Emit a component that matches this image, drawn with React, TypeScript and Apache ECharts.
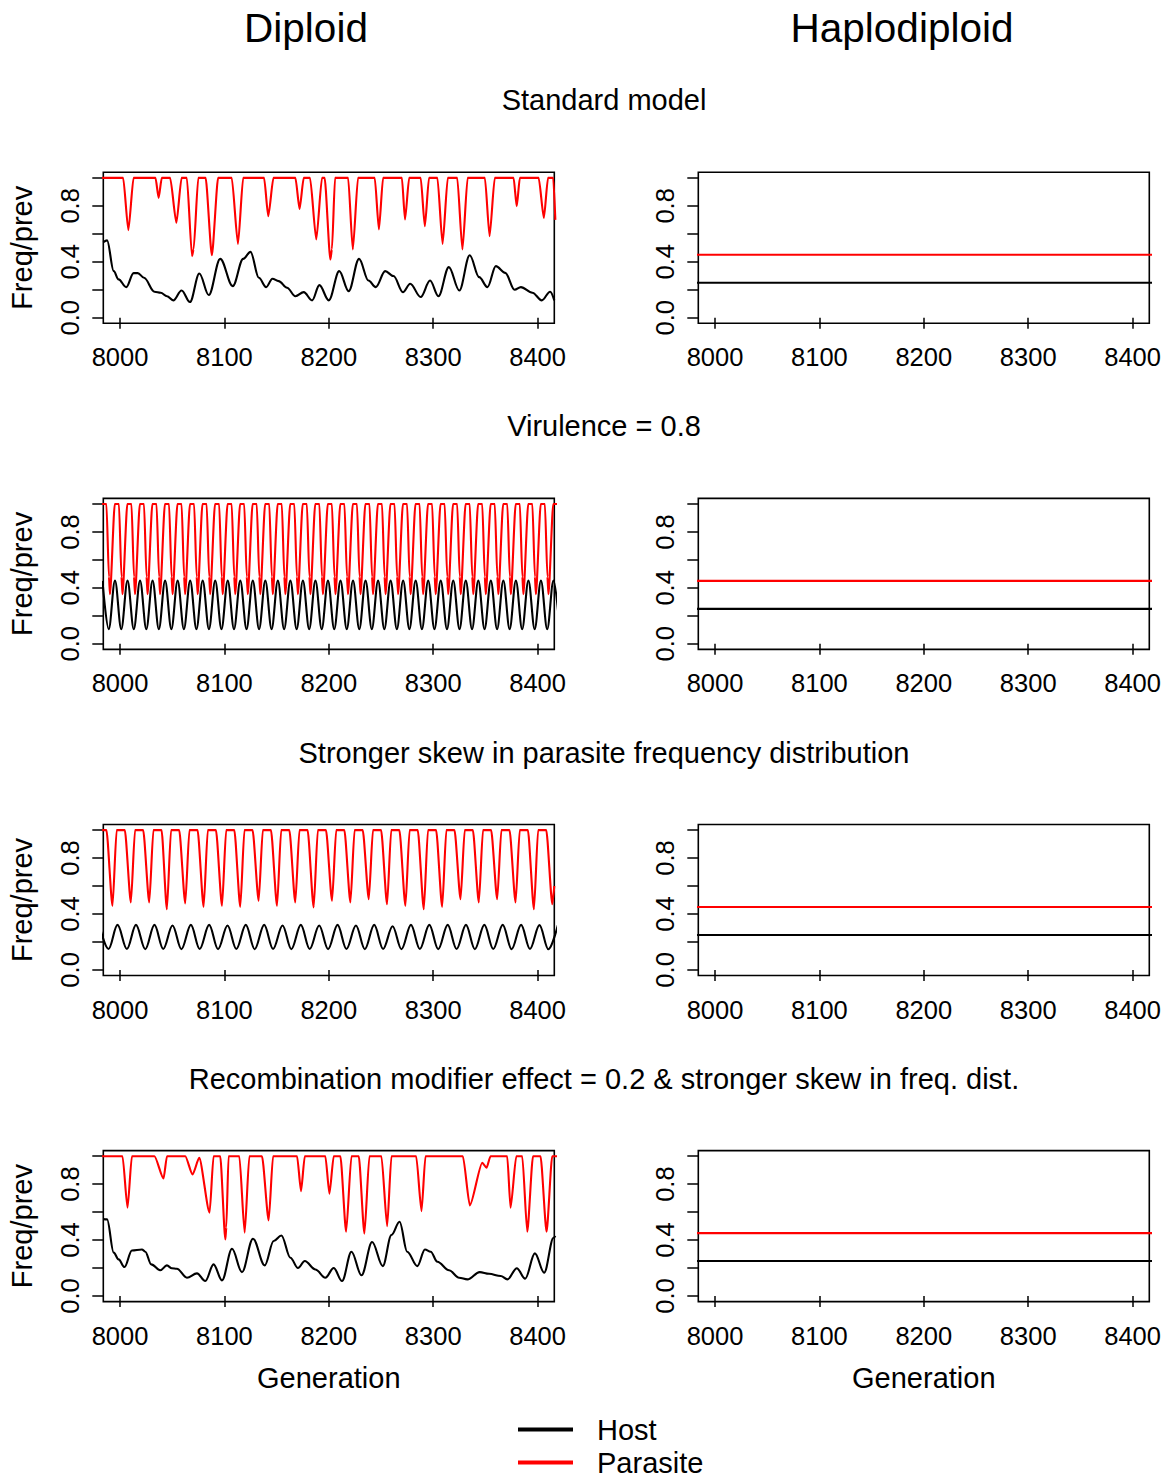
import React, { useEffect, useRef } from 'react';
import * as echarts from 'echarts';

const FONT = '"Liberation Sans", Arial, Helvetica, sans-serif';

// ---------- texts / ticks ----------
const columnTitles = ['Diploid', 'Haplodiploid'];
const rowTitles = [
  'Standard model',
  'Virulence = 0.8',
  'Stronger skew in parasite frequency distribution',
  'Recombination modifier effect = 0.2 & stronger skew in freq. dist.',
];
const seriesNames = ['Host', 'Parasite'];
const seriesColors = ['#000000', '#FF0000'];
const xTickValues = [8000, 8100, 8200, 8300, 8400];
const yTickValues = [0, 0.2, 0.4, 0.6, 0.8, 1.0];
const yLabelValues = [0, 0.4, 0.8];
const xRange = [7984, 8416];
const yRange = [-0.04, 1.04];

// ---------- Diploid, standard model ----------
const stdHost = [
  [7984, 0.54], [7987.6, 0.553], [7994, 0.333], [7998.6, 0.274], [8006, 0.219], [8013, 0.319], [8017, 0.319],
  [8023, 0.286], [8033, 0.186], [8039, 0.179], [8045, 0.154], [8051, 0.124], [8059, 0.195], [8067, 0.112],
  [8076, 0.316], [8085, 0.162], [8096, 0.421], [8108, 0.226], [8118, 0.421], [8125, 0.471], [8133, 0.286],
  [8140, 0.219], [8146, 0.279], [8152, 0.262], [8160, 0.214], [8168, 0.154], [8176, 0.183], [8184, 0.124],
  [8191, 0.233], [8200, 0.124], [8210, 0.333], [8219, 0.19], [8229, 0.421], [8238, 0.266], [8245, 0.219],
  [8254, 0.333], [8262, 0.298], [8271, 0.183], [8278, 0.243], [8288, 0.148], [8297, 0.266], [8305, 0.154],
  [8315, 0.362], [8325, 0.195], [8335, 0.447], [8344, 0.29], [8352, 0.219], [8360, 0.369], [8369, 0.321],
  [8378, 0.2], [8384, 0.219], [8395, 0.179], [8404, 0.124], [8412, 0.186], [8416, 0.124],
];
const stdPar = [
  [7980, 1], [8003, 1], [8008, 0.626], [8013, 1], [8034, 1], [8037, 0.857], [8040, 1], [8048, 1], [8054, 0.679],
  [8059, 1], [8064, 1], [8069, 0.44], [8070.5, 0.49], [8075, 1], [8082, 1], [8088, 0.447], [8094, 1], [8107, 1],
  [8113, 0.528], [8118, 1], [8138, 1], [8142, 0.726], [8147, 1], [8168, 1], [8172, 0.778], [8176, 1], [8182, 1],
  [8188, 0.559], [8193.5, 1], [8196, 1], [8201.5, 0.416], [8203, 0.49], [8206, 1], [8218.5, 1], [8223, 0.488],
  [8228, 1], [8244, 1], [8248, 0.631], [8252, 1], [8270, 1], [8273, 0.702], [8277, 1], [8288, 1], [8292, 0.654],
  [8296, 1], [8304, 1], [8309, 0.528], [8314, 1], [8323, 1], [8328, 0.488], [8333, 1], [8349.5, 1], [8354, 0.583],
  [8359, 1], [8377, 1], [8380, 0.797], [8383, 1], [8401, 1], [8406, 0.714], [8410, 1], [8415, 1], [8417, 0.7],
];

// ---------- Diploid, virulence = 0.8 ----------
const virHost = [
  [7983.2, 0.45], [7989.2, 0.105], [7995.2, 0.452], [8001.2, 0.105], [8007.2, 0.452], [8013.2, 0.105],
  [8019.2, 0.452], [8025.2, 0.105], [8031.2, 0.452], [8037.2, 0.105], [8043.2, 0.452], [8049.2, 0.105],
  [8055.2, 0.452], [8061.2, 0.105], [8067.2, 0.452], [8073.2, 0.105], [8079.2, 0.452], [8085.2, 0.105],
  [8091.2, 0.452], [8097.2, 0.105], [8103.2, 0.452], [8109.2, 0.105], [8115.2, 0.452], [8121.2, 0.105],
  [8127.2, 0.452], [8133.2, 0.105], [8139.2, 0.452], [8145.2, 0.105], [8151.2, 0.452], [8157.2, 0.105],
  [8163.2, 0.452], [8169.2, 0.105], [8175.2, 0.452], [8181.2, 0.105], [8187.2, 0.452], [8193.2, 0.105],
  [8199.2, 0.452], [8205.2, 0.105], [8211.2, 0.452], [8217.2, 0.105], [8223.2, 0.452], [8229.2, 0.105],
  [8235.2, 0.452], [8241.2, 0.105], [8247.2, 0.452], [8253.2, 0.105], [8259.2, 0.452], [8265.2, 0.105],
  [8271.2, 0.452], [8277.2, 0.105], [8283.2, 0.452], [8289.2, 0.105], [8295.2, 0.452], [8301.2, 0.105],
  [8307.2, 0.452], [8313.2, 0.105], [8319.2, 0.452], [8325.2, 0.105], [8331.2, 0.452], [8337.2, 0.105],
  [8343.2, 0.452], [8349.2, 0.105], [8355.2, 0.452], [8361.2, 0.105], [8367.2, 0.452], [8373.2, 0.105],
  [8379.2, 0.452], [8385.2, 0.105], [8391.2, 0.452], [8397.2, 0.105], [8403.2, 0.452], [8409.2, 0.105],
  [8415.2, 0.452], [8421.2, 0.105],
];
const virPar = [
  [7980, 1], [7987, 1], [7989.4, 0.48],
  [7990.4, 0.355], [7995, 1], [7999, 1], [8001.4, 0.48],
  [8002.4, 0.355], [8007, 1], [8011, 1], [8013.4, 0.48],
  [8014.4, 0.355], [8019, 1], [8023, 1], [8025.4, 0.48],
  [8026.4, 0.355], [8031, 1], [8035, 1], [8037.4, 0.48],
  [8038.4, 0.355], [8043, 1], [8047, 1], [8049.4, 0.48],
  [8050.4, 0.355], [8055, 1], [8059, 1], [8061.4, 0.48],
  [8062.4, 0.355], [8067, 1], [8071, 1], [8073.4, 0.48],
  [8074.4, 0.355], [8079, 1], [8083, 1], [8085.4, 0.48],
  [8086.4, 0.355], [8091, 1], [8095, 1], [8097.4, 0.48],
  [8098.4, 0.355], [8103, 1], [8107, 1], [8109.4, 0.48],
  [8110.4, 0.355], [8115, 1], [8119, 1], [8121.4, 0.48],
  [8122.4, 0.355], [8127, 1], [8131, 1], [8133.4, 0.48],
  [8134.4, 0.355], [8139, 1], [8143, 1], [8145.4, 0.48],
  [8146.4, 0.355], [8151, 1], [8155, 1], [8157.4, 0.48],
  [8158.4, 0.355], [8163, 1], [8167, 1], [8169.4, 0.48],
  [8170.4, 0.355], [8175, 1], [8179, 1], [8181.4, 0.48],
  [8182.4, 0.355], [8187, 1], [8191, 1], [8193.4, 0.48],
  [8194.4, 0.355], [8199, 1], [8203, 1], [8205.4, 0.48],
  [8206.4, 0.355], [8211, 1], [8215, 1], [8217.4, 0.48],
  [8218.4, 0.355], [8223, 1], [8227, 1], [8229.4, 0.48],
  [8230.4, 0.355], [8235, 1], [8239, 1], [8241.4, 0.48],
  [8242.4, 0.355], [8247, 1], [8251, 1], [8253.4, 0.48],
  [8254.4, 0.355], [8259, 1], [8263, 1], [8265.4, 0.48],
  [8266.4, 0.355], [8271, 1], [8275, 1], [8277.4, 0.48],
  [8278.4, 0.355], [8283, 1], [8287, 1], [8289.4, 0.48],
  [8290.4, 0.355], [8295, 1], [8299, 1], [8301.4, 0.48],
  [8302.4, 0.355], [8307, 1], [8311, 1], [8313.4, 0.48],
  [8314.4, 0.355], [8319, 1], [8323, 1], [8325.4, 0.48],
  [8326.4, 0.355], [8331, 1], [8335, 1], [8337.4, 0.48],
  [8338.4, 0.355], [8343, 1], [8347, 1], [8349.4, 0.48],
  [8350.4, 0.355], [8355, 1], [8359, 1], [8361.4, 0.48],
  [8362.4, 0.355], [8367, 1], [8371, 1], [8373.4, 0.48],
  [8374.4, 0.355], [8379, 1], [8383, 1], [8385.4, 0.48],
  [8386.4, 0.355], [8391, 1], [8395, 1], [8397.4, 0.48],
  [8398.4, 0.355], [8403, 1], [8407, 1], [8409.4, 0.48],
  [8410.4, 0.355], [8415, 1], [8420, 1],
];

// ---------- Diploid, stronger skew ----------
const skewHost = [
  [7980.2, 0.32], [7989.0, 0.15], [7997.6, 0.322], [8006.6, 0.15], [8015.3, 0.322], [8024.2, 0.148],
  [8033.0, 0.322], [8041.4, 0.15], [8050.3, 0.318], [8058.8, 0.148], [8067.9, 0.322], [8076.3, 0.15],
  [8085.4, 0.322], [8093.9, 0.148], [8103.0, 0.318], [8111.4, 0.15], [8120.5, 0.322], [8129.0, 0.148],
  [8138.1, 0.322], [8146.6, 0.15], [8155.7, 0.318], [8164.1, 0.148], [8173.2, 0.322], [8181.7, 0.15],
  [8190.8, 0.318], [8199.3, 0.148], [8208.4, 0.322], [8216.9, 0.15], [8226.0, 0.318], [8234.5, 0.148],
  [8243.5, 0.322], [8252.0, 0.15], [8261.1, 0.312], [8269.6, 0.148], [8278.7, 0.322], [8287.2, 0.15],
  [8296.3, 0.322], [8304.8, 0.148], [8313.9, 0.322], [8322.4, 0.15], [8331.4, 0.322], [8339.9, 0.148],
  [8349.0, 0.322], [8357.5, 0.15], [8366.6, 0.322], [8375.1, 0.148], [8384.2, 0.322], [8392.7, 0.15],
  [8401.8, 0.32], [8410.3, 0.148], [8419.4, 0.32],
];
const skewPar = [
  [7980, 1], [7987, 1],
  [7992.8, 0.458], [7996.8, 1], [8004.6, 1],
  [8010.4, 0.482], [8014.4, 1], [8022.2, 1],
  [8028.0, 0.482], [8032.0, 1], [8039.8, 1],
  [8044.9, 0.434], [8048.9, 1], [8056.7, 1],
  [8062.5, 0.475], [8066.5, 1], [8074.3, 1],
  [8080.1, 0.451], [8084.1, 1], [8091.9, 1],
  [8097.7, 0.458], [8101.7, 1], [8109.5, 1],
  [8115.2, 0.451], [8119.2, 1], [8127.0, 1],
  [8132.8, 0.494], [8136.8, 1], [8144.6, 1],
  [8150.4, 0.458], [8154.4, 1], [8162.2, 1],
  [8167.9, 0.482], [8171.9, 1], [8179.7, 1],
  [8185.5, 0.446], [8189.5, 1], [8197.3, 1],
  [8203.1, 0.494], [8207.1, 1], [8214.9, 1],
  [8220.7, 0.482], [8224.7, 1], [8232.5, 1],
  [8238.3, 0.506], [8242.3, 1], [8250.1, 1],
  [8255.8, 0.47], [8259.8, 1], [8267.6, 1],
  [8273.4, 0.458], [8277.4, 1], [8285.2, 1],
  [8291.0, 0.434], [8295.0, 1], [8302.8, 1],
  [8308.6, 0.451], [8312.6, 1], [8320.4, 1],
  [8326.2, 0.506], [8330.2, 1], [8338.0, 1],
  [8343.7, 0.482], [8347.7, 1], [8355.5, 1],
  [8361.3, 0.506], [8365.3, 1], [8373.1, 1],
  [8378.9, 0.482], [8382.9, 1], [8390.7, 1],
  [8396.5, 0.434], [8400.5, 1], [8408.3, 1],
  [8414.1, 0.47], [8416, 0.6],
];

// ---------- Diploid, recombination modifier ----------
const recHost = [
  [7984, 0.55], [7987.6, 0.548], [7994, 0.31], [7998.6, 0.262], [8004.3, 0.207], [8011.4, 0.326], [8021, 0.333],
  [8024.2, 0.317], [8029.9, 0.226], [8038.6, 0.184], [8044.9, 0.219], [8049.7, 0.198], [8054.5, 0.195],
  [8064.1, 0.131], [8073.7, 0.162], [8081.7, 0.107], [8089.6, 0.226], [8097.7, 0.112], [8107.3, 0.338],
  [8116.8, 0.171], [8127.4, 0.41], [8138.6, 0.219], [8147.2, 0.393], [8154.6, 0.433], [8163.2, 0.274],
  [8170.5, 0.2], [8177, 0.25], [8187.2, 0.19], [8196.7, 0.131], [8204.7, 0.2], [8212.7, 0.107],
  [8221.7, 0.317], [8231.3, 0.148], [8241.5, 0.386], [8251.7, 0.214], [8260, 0.436], [8267.8, 0.531],
  [8275.1, 0.317], [8284.8, 0.214], [8292.1, 0.333], [8297.6, 0.317], [8304, 0.245], [8315.2, 0.184],
  [8324.8, 0.131], [8332.8, 0.119], [8344.6, 0.171], [8353.5, 0.159], [8364.7, 0.143], [8371.1, 0.119],
  [8380.1, 0.198], [8388.1, 0.124], [8397.4, 0.305], [8406.3, 0.167], [8415.3, 0.417], [8417, 0.43],
];
const recPar = [
  [7980, 1], [8002.4, 1], [8007.2, 0.631], [8011.4, 1], [8033, 1], [8041.7, 0.841], [8045, 1],
  [8062.5, 1], [8069.5, 0.869], [8075.9, 0.988], [8085.8, 0.596], [8089.6, 1], [8096, 1], [8100.9, 0.405],
  [8101.8, 0.49], [8104, 1], [8114.3, 1], [8119.4, 0.453], [8123.9, 1], [8136, 1], [8142.4, 0.541],
  [8146.6, 1], [8169.6, 1], [8173.4, 0.75], [8177, 1], [8196.7, 1], [8200.6, 0.731], [8204.7, 1],
  [8211.1, 1], [8216.6, 0.46], [8221.7, 1], [8228.7, 1], [8234.1, 0.446], [8238.9, 1], [8250.4, 1],
  [8255.9, 0.5], [8260, 1], [8283.7, 1], [8288.8, 0.607], [8292.6, 1], [8328.4, 1], [8335.1, 0.648],
  [8347, 0.953], [8351.1, 0.917], [8354.9, 1], [8370.9, 1], [8374.1, 0.631], [8379.6, 1], [8385.3, 1],
  [8390.1, 0.46], [8395.6, 1], [8402.8, 1], [8408.6, 0.46], [8414, 1], [8420, 1],
];

// ---------- Haplodiploid: constant equilibria ----------
const haploGens = [7980, 8420];
const haploHost = [0.25, 0.25, 0.25, 0.25];
const haploPar = [0.45, 0.45, 0.45, 0.45];

const diploidHost = [stdHost, virHost, skewHost, recHost];
const diploidPar = [stdPar, virPar, skewPar, recPar];

// ---------- layout ----------
const GRID_LEFT = [103.3, 698.3];
const GRID_TOP = [172.3, 498.4, 824.5, 1150.6];
const GRID_W = 451;
const GRID_H = 151;
const LABEL_SIZE = 29;
const TICK_SIZE = 25.5;

function buildOption() {
  const grid: any[] = [];
  const xAxis: any[] = [];
  const yAxis: any[] = [];
  const series: any[] = [];
  let idx = 0;
  for (let r = 0; r < 4; r++) {
    for (let c = 0; c < 2; c++) {
      grid.push({
        left: GRID_LEFT[c],
        top: GRID_TOP[r],
        width: GRID_W,
        height: GRID_H,
        show: true,
        borderColor: '#000',
        borderWidth: 1.6,
        backgroundColor: 'transparent',
        containLabel: false,
      });
      xAxis.push({
        gridIndex: idx,
        type: 'value',
        min: xRange[0],
        max: xRange[1],
        axisLine: { show: false },
        splitLine: { show: false },
        axisTick: {
          show: true,
          inside: false,
          length: 11,
          customValues: xTickValues,
          lineStyle: { color: '#000', width: 1.5 },
        },
        axisLabel: {
          show: true,
          customValues: xTickValues,
          margin: 21,
          fontSize: TICK_SIZE,
          fontFamily: FONT,
          color: '#000',
          formatter: (v: number) => String(v),
        },
        name: r === 3 ? 'Generation' : '',
        nameLocation: 'middle',
        nameGap: 62,
        nameTextStyle: { fontSize: LABEL_SIZE, fontFamily: FONT, color: '#000' },
      });
      yAxis.push({
        gridIndex: idx,
        type: 'value',
        min: yRange[0],
        max: yRange[1],
        axisLine: { show: false },
        splitLine: { show: false },
        axisTick: {
          show: true,
          inside: false,
          length: 11,
          customValues: yTickValues,
          lineStyle: { color: '#000', width: 1.5 },
        },
        axisLabel: {
          show: true,
          customValues: yLabelValues,
          rotate: 90,
          margin: 20,
          fontSize: TICK_SIZE,
          fontFamily: FONT,
          color: '#000',
          formatter: (v: number) => v.toFixed(1),
        },
        name: c === 0 ? 'Freq/prev' : '',
        nameLocation: 'middle',
        nameRotate: 90,
        nameGap: 67,
        nameTextStyle: { fontSize: LABEL_SIZE, fontFamily: FONT, color: '#000' },
      });
      const hostData =
        c === 0 ? diploidHost[r] : haploGens.map((g) => [g, haploHost[r]]);
      const parData =
        c === 0 ? diploidPar[r] : haploGens.map((g) => [g, haploPar[r]]);
      series.push({
        name: seriesNames[0],
        type: 'line',
        xAxisIndex: idx,
        yAxisIndex: idx,
        data: hostData,
        showSymbol: false,
        symbol: 'none',
        smooth: c === 0 ? 0.35 : false,
        smoothMonotone: 'x',
        clip: true,
        color: seriesColors[0],
        lineStyle: { color: seriesColors[0], width: 2.1 },
        z: 3,
      });
      series.push({
        name: seriesNames[1],
        type: 'line',
        xAxisIndex: idx,
        yAxisIndex: idx,
        data: parData,
        showSymbol: false,
        symbol: 'none',
        smooth: c === 0 ? 0.22 : false,
        smoothMonotone: 'x',
        clip: true,
        color: seriesColors[1],
        lineStyle: { color: seriesColors[1], width: 2.1 },
        z: 4,
      });
      idx++;
    }
  }

  const textEl = (text: string, x: number, y: number, size: number) => ({
    type: 'text',
    x,
    y,
    silent: true,
    style: {
      text,
      fontSize: size,
      fontFamily: FONT,
      fill: '#000',
      align: 'center',
      verticalAlign: 'middle',
      textAlign: 'center',
      textVerticalAlign: 'middle',
    },
  });

  const graphic: any[] = [
    textEl(columnTitles[0], 306, 28, 40.5),
    textEl(columnTitles[1], 902, 28, 40.5),
    textEl(rowTitles[0], 604, 100, LABEL_SIZE),
    textEl(rowTitles[1], 604, 426, LABEL_SIZE),
    textEl(rowTitles[2], 604, 753, LABEL_SIZE),
    textEl(rowTitles[3], 604, 1079, LABEL_SIZE),
  ];

  const legendBase = {
    left: 513,
    orient: 'vertical',
    icon: 'rect',
    itemWidth: 55,
    itemHeight: 4,
    selectedMode: false,
    padding: 5,
    textStyle: { fontSize: LABEL_SIZE, fontFamily: FONT, color: '#000', padding: [0, 0, 0, 19] },
  };

  return {
    animation: false,
    backgroundColor: '#ffffff',
    grid,
    xAxis,
    yAxis,
    series,
    graphic,
    legend: [
      { ...legendBase, data: [seriesNames[0]], top: 1410 },
      { ...legendBase, data: [seriesNames[1]], top: 1443 },
    ],
  };
}

export default function App() {
  const ref = useRef<HTMLDivElement>(null);
  useEffect(() => {
    if (!ref.current) return;
    const chart = echarts.init(ref.current, undefined, { renderer: 'svg' });
    chart.setOption(buildOption() as any);
    return () => chart.dispose();
  }, []);
  return (
    <div
      ref={ref}
      style={{ position: 'absolute', left: 0, top: 0, width: 1165, height: 1477, background: '#fff' }}
    />
  );
}
